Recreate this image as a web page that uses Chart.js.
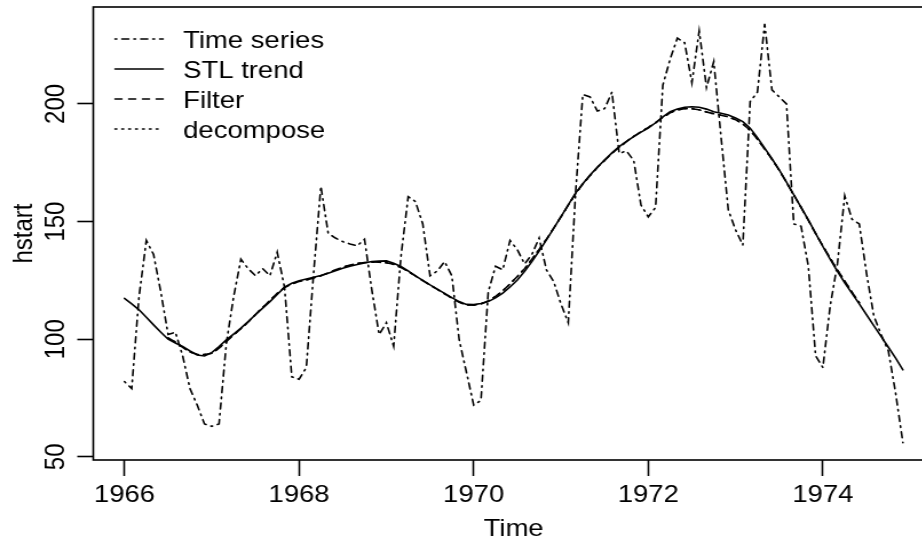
<!DOCTYPE html>
<html>
<head>
<meta charset="utf-8">
<title>hstart trend comparison</title>
<script src="https://cdn.jsdelivr.net/npm/chart.js"></script>
<style>
  html, body { margin: 0; padding: 0; background: #fff; overflow: hidden; }
  /* the reference picture is stretched sideways, so the canvas is too */
  #wrap { width: 816px; height: 545px; transform: scaleX(1.14461); transform-origin: 0 0; }
</style>
</head>
<body>
<div id="wrap"><canvas id="chart" width="816" height="545"></canvas></div>
<script>
// ========================================
// Data (monthly, Jan 1966 - Dec 1974)
// ========================================
const startYear = 1966;

const hstart = [
    82, 79, 118, 142, 136, 120, 102, 103, 93, 79, 72, 64,
    63, 64, 98, 118, 134, 130, 127, 130, 127, 137, 122, 84,
    83, 88, 128, 165, 145, 143, 141.5, 140.5, 139.7, 142.5, 121, 102,
    107, 97, 135, 160.6, 158.5, 149, 127, 129, 133, 127, 100, 86,
    72, 74, 120, 131, 129.5, 142, 138, 132, 136, 143, 129.5, 124.5,
    115, 107, 162, 204, 203, 197, 198, 205, 179, 180, 176, 157,
    152, 156, 208, 219, 228, 226, 209, 231, 207, 218, 186, 155,
    146.5, 140, 201, 205, 234, 206, 203, 200, 149, 148, 131, 93,
    88, 114, 132, 161, 151, 149, 128, 110, 102, 95, 77, 56
];

const stlTrend = [
    117.4, 115, 112.5, 109.3, 106.1, 103, 100, 98.4, 96.9, 95, 93.3, 92.9,
    94.3, 96.9, 99.7, 102.2, 104.7, 107.5, 110.4, 113.2, 116, 119, 122.1, 123.8,
    124.9, 125.6, 126.3, 127.1, 128, 129.1, 130.2, 131, 131.8, 132.4, 133, 133.2,
    133.3, 132.3, 130.9, 129, 126.9, 125, 123.1, 121.3, 119.5, 117.7, 116, 114.8,
    114.7, 115.2, 116, 117.6, 119.6, 122.2, 125.2, 128.9, 133, 137.5, 142.2, 147.1,
    152.1, 157.1, 162.1, 166.1, 169.8, 173.1, 176.2, 179.2, 181.9, 184.1, 186.1, 188,
    189.7, 192, 194.5, 196.7, 197.8, 198.6, 198.8, 198.6, 197.8, 196.7, 196, 195.3,
    194, 192.5, 189.7, 185.7, 181.2, 176.7, 172, 166.8, 161.4, 156, 150.7, 145,
    139.4, 134, 128.8, 124, 119.5, 115, 110.4, 105.8, 101.2, 96.6, 92, 87
];

// centred 2x12 moving average: missing for the first and last six months
const filterTrend = [
    null, null, null, null, null, null, 100.5, 98.8, 96.5, 94.6, 93.5, 93.5,
    94, 96.2, 99, 101.8, 104.5, 107.3, 110.5, 113.5, 116.5, 119.5, 122, 123.5,
    124.5, 125.2, 126, 127, 128.2, 129.5, 130.6, 131.5, 132.2, 132.6, 132.8, 132.7,
    132.5, 131.8, 130.5, 128.8, 126.9, 124.9, 123, 121.2, 119.3, 117.5, 115.7, 114.6,
    114.5, 115, 116.3, 118.2, 120.6, 123.5, 126.7, 130, 134, 138.2, 142.5, 147.2,
    152, 157, 161.8, 166, 169.6, 173, 176, 179, 181.6, 184, 186.2, 188.2,
    190, 192, 194.3, 196.2, 197.5, 198, 198, 197.5, 196.6, 195.8, 195.2, 194.5,
    193.3, 191.5, 188.8, 185, 180.8, 176.5, 171.8, 166.7, 161.3, 156, 150.5, 145,
    139.6, 134.5, 129.5, 124.7, 120, 115.5, null, null, null, null, null, null
];

// decompose() uses the same moving average, so it sits on the filter line
const decomposeTrend = filterTrend.slice();

const xTicks = [1966, 1968, 1970, 1972, 1974];
const yTicks = [50, 100, 150, 200];
const seriesLabels = ['Time series', 'STL trend', 'Filter', 'decompose'];

// ========================================
// Helpers
// ========================================
function toPoints(values) {
    return values.map((v, i) => ({ x: startYear + i / 12, y: v }));
}

function lineSet(label, values, dash) {
    return {
        label: label,
        data: toPoints(values),
        borderColor: '#000',
        borderWidth: 1.6,
        borderDash: dash,
        borderCapStyle: 'round',
        pointRadius: 0,
        tension: 0,
        fill: false
    };
}

// box around the plot region, like R's bty="o"
const plotBox = {
    id: 'plotBox',
    afterDatasetsDraw(chart) {
        const { ctx, chartArea: a } = chart;
        ctx.save();
        ctx.strokeStyle = '#000';
        ctx.lineWidth = 1.6;
        ctx.strokeRect(a.left, a.top, a.right - a.left, a.bottom - a.top);
        ctx.restore();
    }
};

// inset legend at the top left of the plot region
const insetLegend = {
    id: 'insetLegend',
    afterDraw(chart) {
        const { ctx, chartArea: a } = chart;
        ctx.save();
        ctx.font = '24px "Liberation Sans", Arial, sans-serif';
        ctx.fillStyle = '#000';
        ctx.textBaseline = 'alphabetic';
        chart.data.datasets.forEach((ds, k) => {
            const y = a.top + 32 + k * 30;
            ctx.strokeStyle = '#000';
            ctx.lineWidth = ds.borderWidth;
            ctx.lineCap = 'round';
            ctx.setLineDash(ds.borderDash || []);
            ctx.beginPath();
            ctx.moveTo(a.left + 19, y);
            ctx.lineTo(a.left + 61, y);
            ctx.stroke();
            ctx.setLineDash([]);
            ctx.fillText(ds.label, a.left + 78.5, y + 9);
        });
        ctx.restore();
    }
};

// ========================================
// Chart
// ========================================
Chart.defaults.font.family = '"Liberation Sans", Arial, sans-serif';
Chart.defaults.font.size = 24;
Chart.defaults.color = '#000';

new Chart(document.getElementById('chart'), {
    type: 'line',
    data: {
        datasets: [
            lineSet(seriesLabels[0], hstart, [1.5, 4.5, 6, 4.5]),
            lineSet(seriesLabels[1], stlTrend, []),
            lineSet(seriesLabels[2], filterTrend, [6, 6]),
            lineSet(seriesLabels[3], decomposeTrend, [1.5, 4.5])
        ]
    },
    options: {
        responsive: false,
        animation: false,
        devicePixelRatio: 1,
        layout: { padding: { top: 7, left: 0, right: 0, bottom: 0 } },
        plugins: {
            legend: { display: false },
            tooltip: { enabled: false }
        },
        scales: {
            x: {
                type: 'linear',
                min: 1965.643,
                max: 1975.273,
                afterBuildTicks: s => { s.ticks = xTicks.map(v => ({ value: v })); },
                afterFit: s => { s.height = 85; s.paddingLeft = 0; s.paddingRight = 0; },
                ticks: {
                    autoSkip: false,
                    maxRotation: 0,
                    padding: 5,
                    callback: v => String(v)
                },
                grid: {
                    drawOnChartArea: false,
                    drawTicks: true,
                    tickLength: 16,
                    tickColor: '#000',
                    tickWidth: 1.6
                },
                border: { display: false },
                title: { display: true, text: 'Time', padding: { top: 0, bottom: 1.6 } }
            },
            y: {
                type: 'linear',
                min: 48.67,
                max: 241.2,
                afterBuildTicks: s => { s.ticks = yTicks.map(v => ({ value: v })); },
                afterFit: s => { s.width = 81.5; s.paddingTop = 0; s.paddingBottom = 0; },
                ticks: {
                    minRotation: 90,
                    maxRotation: 90,
                    crossAlign: 'center',
                    padding: -2,
                    callback: v => String(v)
                },
                grid: {
                    drawOnChartArea: false,
                    drawTicks: true,
                    tickLength: 14,
                    tickColor: '#000',
                    tickWidth: 1.6
                },
                border: { display: false },
                title: { display: true, text: 'hstart', padding: { top: 6.6, bottom: 0 } }
            }
        }
    },
    plugins: [plotBox, insetLegend]
});
</script>
</body>
</html>
